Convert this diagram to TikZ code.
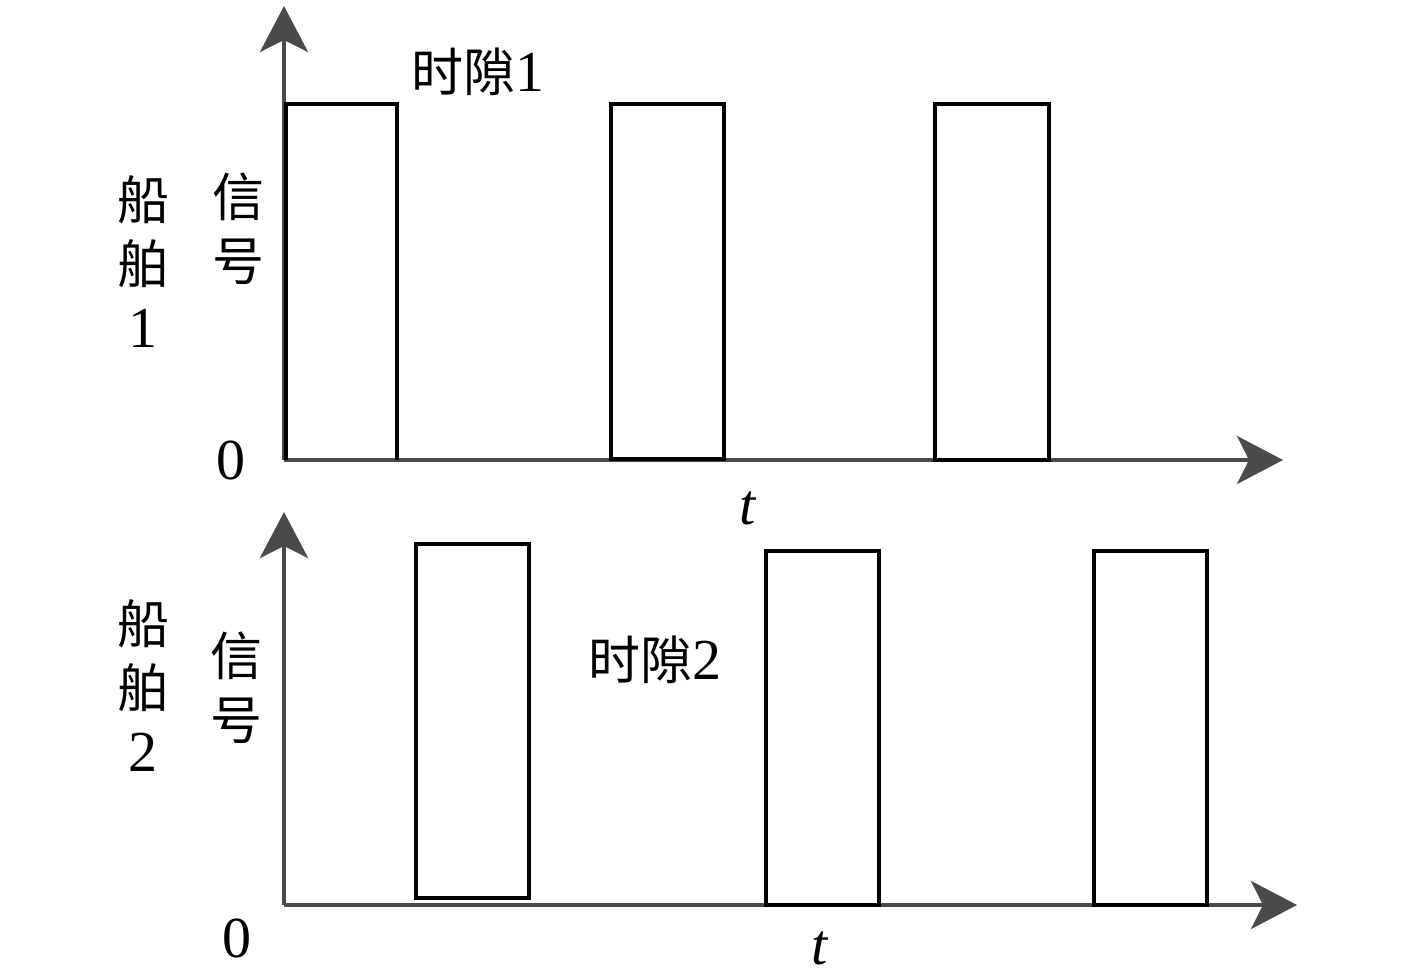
\documentclass[tikz,border=0pt]{standalone}
\usepackage{fontspec}
\setmainfont{Liberation Serif}
\newfontfamily\cjk{Noto Sans CJK SC}
\usetikzlibrary{arrows.meta}
\definecolor{axisgray}{HTML}{4A4A4A}
\tikzset{
  axisline/.style={draw=axisgray, line width=4pt, -{Stealth[length=46pt, width=48pt, inset=12pt]}},
  pulse/.style={draw=black, line width=4.5pt, line join=miter},
  cjklabel/.style={font=\cjk\fontsize{52}{64}\selectfont, align=center, inner sep=0pt},
  numlabel/.style={font=\fontsize{58}{64}\selectfont, inner sep=0pt},
  tlabel/.style={font=\itshape\fontsize{58}{64}\selectfont, inner sep=0pt},
}
\begin{document}
\begin{tikzpicture}[x=1pt, y=-1pt]
\useasboundingbox (0,0) rectangle (1417,978);
% ---- upper chart ----
\coordinate (o1) at (284,460);
\coordinate (y1) at (284,6);
\coordinate (x1) at (1283,460);
\draw[axisline] (o1) -- (y1);
\draw[axisline] (o1) -- (x1);
\draw[pulse] (286,460) -- (286,104) -- (397,104) -- (397,460);
\draw[pulse] (611,104) rectangle (724,459);
\draw[pulse] (935,104) rectangle (1049,460);
\node[cjklabel] (slot1) at (478,72) {时隙{\rmfamily\fontsize{58}{64}\selectfont 1}};
\node[cjklabel] (ship1) at (143,262) {船\\舶\\{\rmfamily\fontsize{58}{64}\selectfont 1}};
\node[cjklabel] (sig1) at (238,229) {信\\号};
\node[numlabel] (zero1) at (231,460) {0};
\node[tlabel] (t1) at (748,508) {t};
% ---- lower chart ----
\coordinate (o2) at (284,905);
\coordinate (y2) at (284,512);
\coordinate (x2) at (1297,905);
\draw[axisline] (o2) -- (y2);
\draw[axisline] (o2) -- (x2);
\draw[pulse] (416,544) rectangle (529,898);
\draw[pulse] (766,551) rectangle (879,905);
\draw[pulse] (1094,551) rectangle (1207,905);
\node[cjklabel] (slot2) at (655,660) {时隙{\rmfamily\fontsize{58}{64}\selectfont 2}};
\node[cjklabel] (ship2) at (143,686) {船\\舶\\{\rmfamily\fontsize{58}{64}\selectfont 2}};
\node[cjklabel] (sig2) at (236,688) {信\\号};
\node[numlabel] (zero2) at (237,938) {0};
\node[tlabel] (t2) at (820,948) {t};
\end{tikzpicture}
\end{document}
